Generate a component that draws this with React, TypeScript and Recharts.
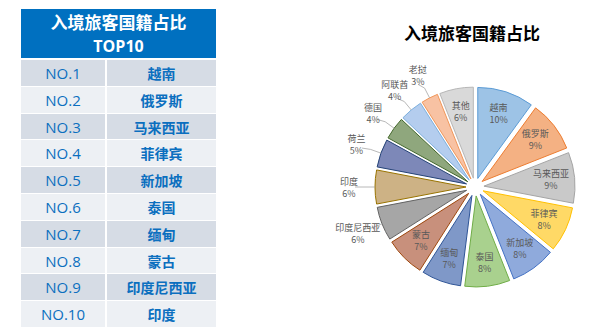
import React from "react";
import { PieChart, Pie, Cell, Sector } from "recharts";

const countries = ["越南", "俄罗斯", "马来西亚", "菲律宾", "新加坡", "泰国", "缅甸", "蒙古", "印度尼西亚", "印度", "荷兰", "德国", "阿联酋", "老挝", "其他"];
const shares = [10, 9, 9, 8, 8, 8, 7, 7, 6, 6, 5, 4, 4, 3, 6];
const ranks = ["NO.1", "NO.2", "NO.3", "NO.4", "NO.5", "NO.6", "NO.7", "NO.8", "NO.9", "NO.10"];
const outsideLabels = ["印度尼西亚", "印度", "荷兰", "德国", "阿联酋", "老挝"];

const fills = ["#9DC3E6", "#F4B183", "#C9C9C9", "#FFD966", "#8FAADC", "#A9D18E", "#7F98C8", "#C8907C", "#A6A6A6", "#CDB285", "#7D88B8", "#8FA77D", "#B4CDEE", "#F8C2A3", "#D9D9D9"];
const strokes = ["#5B9BD5", "#ED7D31", "#A5A5A5", "#FFC000", "#4472C4", "#70AD47", "#2F5597", "#9E480E", "#636363", "#997300", "#264478", "#43682B", "#7CAFDD", "#F1975A", "#B7B7B7"];

const pieData = countries.map((name, i) => ({ name, value: shares[i] }));

const RAD = Math.PI / 180;
const EXPLODE = 9;
const FONT = "'Noto Sans CJK SC', 'Noto Sans', sans-serif";

// pull every slice out along its middle angle
function ExplodedSector(props: any) {
  const { cx, cy, midAngle } = props;
  const dx = EXPLODE * Math.cos(-midAngle * RAD);
  const dy = EXPLODE * Math.sin(-midAngle * RAD);
  return <Sector {...props} cx={cx + dx} cy={cy + dy} />;
}

function SliceLabel(props: any) {
  const { cx, cy, midAngle, outerRadius, name, value } = props;
  const cos = Math.cos(-midAngle * RAD);
  const sin = Math.sin(-midAngle * RAD);
  if (outsideLabels.includes(name)) {
    const r0 = outerRadius + EXPLODE;
    const r1 = r0 + 11;
    const rt = r0 + 26;
    const tx = cx + rt * cos;
    const ty = cy + rt * sin;
    return (
      <g>
        <polyline
          points={`${cx + r0 * cos},${cy + r0 * sin} ${cx + r1 * cos},${cy + r1 * sin} ${cx + (r1 + 5) * cos - 4},${cy + (r1 + 4) * sin}`}
          fill="none"
          stroke="#A6A6A6"
          strokeWidth={0.8}
        />
        <text x={tx} y={ty - 2} textAnchor="middle" fontSize={9} fill="#595959" fontFamily={FONT}>{name}</text>
        <text x={tx} y={ty + 10} textAnchor="middle" fontSize={9} fill="#595959" fontFamily={FONT}>{value}%</text>
      </g>
    );
  }
  const r = outerRadius * 0.74 + EXPLODE;
  const x = cx + r * cos;
  const y = cy + r * sin;
  return (
    <g>
      <text x={x} y={y - 3} textAnchor="middle" fontSize={9} fill="#595959" fontFamily={FONT}>{name}</text>
      <text x={x} y={y + 9} textAnchor="middle" fontSize={9} fill="#595959" fontFamily={FONT}>{value}%</text>
    </g>
  );
}

function RankTable() {
  return (
    <div style={{ position: "absolute", left: 21, top: 9, width: 195, fontFamily: FONT }}>
      <div style={{ position: "relative", height: 49, background: "#0070C0", color: "#fff", fontWeight: 700, textAlign: "center" }}>
        <div style={{ position: "absolute", left: 0, right: 0, top: 1, height: 24, lineHeight: "24px", fontSize: 17 }}>入境旅客国籍占比</div>
        <div style={{ position: "absolute", left: 0, right: 0, top: 25, height: 24, lineHeight: "24px", fontSize: 16, fontFamily: "'Open Sans', sans-serif" }}>TOP10</div>
      </div>
      <div style={{ height: 2 }} />
      {ranks.map((rank, i) => (
        <div key={rank} style={{ display: "flex", height: 26.8, background: i % 2 === 0 ? "#D6DCE5" : "#EDF0F4", borderBottom: "1px solid #fff", boxSizing: "border-box", color: "#0B6FBF" }}>
          <div style={{ width: 84, borderRight: "2px solid #fff", textAlign: "center", fontSize: 15, lineHeight: "26px", fontFamily: "'Open Sans', sans-serif" }}>{rank}</div>
          <div style={{ flex: 1, textAlign: "center", fontSize: 14, fontWeight: 700, lineHeight: "26px" }}>{countries[i]}</div>
        </div>
      ))}
    </div>
  );
}

export default function App() {
  return (
    <div style={{ position: "absolute", left: 0, top: 0, width: 600, height: 336, background: "#fff", overflow: "hidden" }}>
      <RankTable />
      <div style={{ position: "absolute", left: 330, top: 20, width: 284, textAlign: "center", fontFamily: FONT, fontSize: 17, fontWeight: 700, color: "#000" }}>
        入境旅客国籍占比
      </div>
      <div style={{ position: "absolute", left: 270, top: 0 }}>
        <PieChart width={330} height={336}>
          <Pie
            data={pieData}
            dataKey="value"
            nameKey="name"
            cx={200}
            cy={182}
            outerRadius={91}
            startAngle={90}
            endAngle={-270}
            isAnimationActive={false}
            shape={ExplodedSector}
            label={SliceLabel}
            labelLine={false}
            strokeWidth={1}
          >
            {pieData.map((d, i) => (
              <Cell key={d.name} fill={fills[i]} stroke={strokes[i]} />
            ))}
          </Pie>
        </PieChart>
      </div>
    </div>
  );
}
